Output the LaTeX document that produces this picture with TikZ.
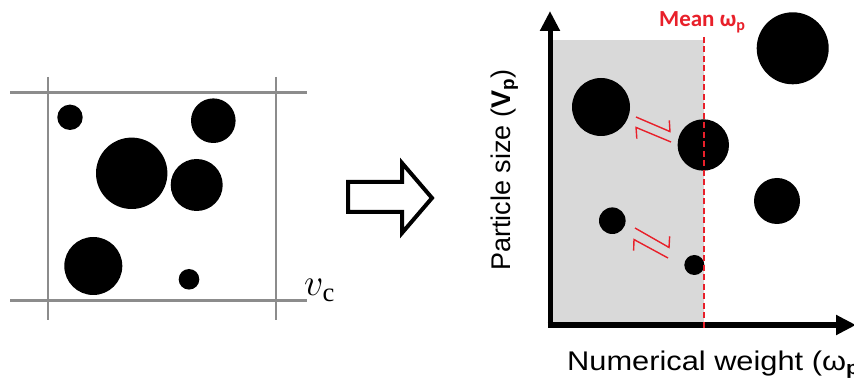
\RequirePackage{fix-cm}
\documentclass[tikz,border=0pt]{standalone}
\usepackage{fontspec}
\setmainfont{Liberation Sans}
\newfontfamily\meanfont{Carlito}
\newfontfamily\serffont{Liberation Serif}
\usetikzlibrary{arrows.meta}
\definecolor{gridgray}{RGB}{140,140,140}
\definecolor{bggray}{RGB}{217,217,217}
\definecolor{meanred}{RGB}{232,32,42}
\tikzset{
  gridline/.style={draw=gridgray, line width=2.5pt},
  ball/.style={circle, fill=black, inner sep=0pt, minimum size=#1},
  axis/.style={line width=5pt, -{Triangle[length=20pt,width=19pt]}},
  harp/.style={draw=meanred, line width=1.4pt, -{Straight Barb[left,length=5pt,width=20pt]}},
}
\begin{document}
\begin{tikzpicture}[x=1pt,y=-1pt]
\useasboundingbox (0,0) rectangle (854,379);
% ---- left panel ----
\coordinate (tl) at (10,92.7); \coordinate (tr) at (307,92.7);
\coordinate (bl) at (10,300.7); \coordinate (br) at (307,300.7);
\coordinate (lt) at (48,77); \coordinate (lb) at (48,320);
\coordinate (rt) at (276,77); \coordinate (rb) at (276,320);
\draw[gridline] (tl) -- (tr);
\draw[gridline] (bl) -- (br);
\draw[gridline] (lt) -- (lb);
\draw[gridline] (rt) -- (rb);
\node[ball=25.4pt] (a1) at (70,117.3) {};
\node[ball=44.6pt] (a2) at (213.3,120.7) {};
\node[ball=71.4pt] (a3) at (131.7,173.3) {};
\node[ball=52pt] (a4) at (196.7,185) {};
\node[ball=58pt] (a5) at (93.3,266) {};
\node[ball=20.6pt] (a6) at (189,279.3) {};
\node[anchor=base west, inner sep=0pt, font=\fontsize{38}{44}\selectfont] (vc) at (304,296) {$v$\kern-1pt\textsubscript{\serffont c}};
% ---- hollow arrow ----
\draw[line width=4pt, line join=miter, fill=white] (348,182) -- (402,182) -- (402,163) -- (432,198) -- (402,233) -- (402,212) -- (348,212) -- cycle;
% ---- right panel ----
\fill[bggray] (550,40) rectangle (704,325);
\coordinate (O) at (550,325);
\coordinate (O2) at (547.5,325);
\coordinate (ytop) at (550,11);
\coordinate (xend) at (856,325);
\draw[axis] (O) -- (ytop);
\draw[axis] (O2) -- (xend);
\node[ball=58pt] (b1) at (601,107) {};
\node[ball=51.4pt] (b2) at (703.3,145) {};
\node[ball=26.6pt] (b3) at (612.3,220.7) {};
\node[ball=20pt] (b4) at (694.3,265) {};
\node[ball=72pt] (b5) at (792.7,48.3) {};
\node[ball=46pt] (b6) at (777,201) {};
\coordinate (mtop) at (704,37);
\coordinate (mbot) at (704,330);
\draw[meanred, line width=2.8pt, dash pattern=on 6pt off 3.5pt] (mtop) -- (mbot);
\node[anchor=base west, inner sep=0pt, text=meanred, font=\meanfont\bfseries\fontsize{23}{27}\selectfont] (mean) at (659,27) {Mean ω\textsubscript{p}};
% harpoons
\coordinate (h1a) at (636,117); \coordinate (h1b) at (671,132);
\coordinate (h1c) at (671,142); \coordinate (h1d) at (635,127);
\draw[harp] (h1a) -- (h1b);
\draw[harp] (h1c) -- (h1d);
\coordinate (h2a) at (635,228); \coordinate (h2b) at (670,248);
\coordinate (h2c) at (668,258); \coordinate (h2d) at (633,239);
\draw[harp] (h2a) -- (h2b);
\draw[harp] (h2c) -- (h2d);
% labels
\node[anchor=base west, inner sep=0pt, rotate=90, font=\fontsize{27}{32}\selectfont] (ylab) at (510,271) {Particle size ({\bfseries V}\textsubscript{\bfseries p})};
\node[anchor=base west, inner sep=0pt, xscale=1.14, font=\fontsize{27}{32}\selectfont] (xlab) at (567,370) {Numerical weight (ω\textsubscript{\bfseries p})};
\end{tikzpicture}
\end{document}
